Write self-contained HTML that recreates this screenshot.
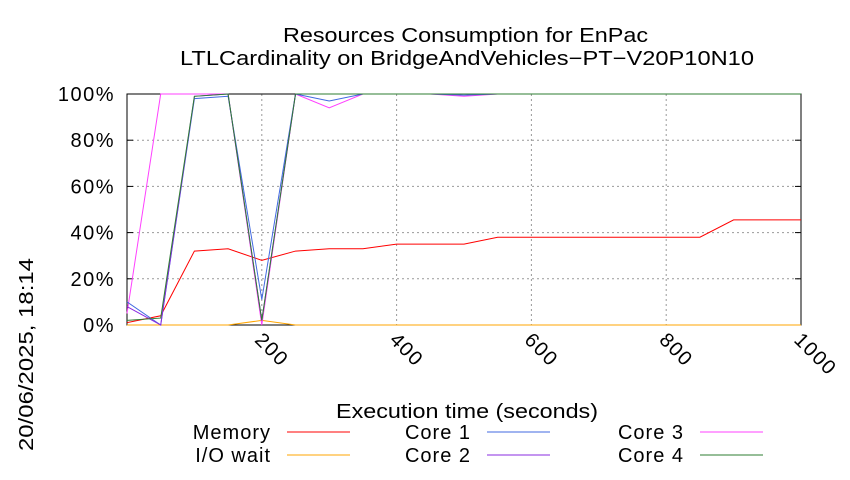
<!DOCTYPE html>
<html><head><meta charset="utf-8"><style>
body{margin:0;background:#fff;font-family:"Liberation Sans",sans-serif;}
svg text{font-family:"Liberation Sans",sans-serif;fill:#000;}
</style></head><body>
<svg id="chart" width="850" height="475" xmlns="http://www.w3.org/2000/svg">
<text x="283" y="42" font-size="20" textLength="365" lengthAdjust="spacingAndGlyphs">Resources Consumption for EnPac</text>
<text x="180" y="65" font-size="20" textLength="574" lengthAdjust="spacingAndGlyphs">LTLCardinality on BridgeAndVehicles−PT−V20P10N10</text>
<text transform="translate(33,451) rotate(-90)" font-size="20" textLength="193" lengthAdjust="spacingAndGlyphs">20/06/2025, 18:14</text>
<text x="336" y="418" font-size="20" textLength="262" lengthAdjust="spacingAndGlyphs">Execution time (seconds)</text>
<g id="grid"></g><g id="axes"></g><g id="series"></g><g id="legend"></g>
</svg>
<script>
const times=[0,50,100,150,200,250,300,350,400,450,500,550,600,650,700,750,800,850,900,950,1000];
const memory=[1,4,32,33,28,32,33,33,35,35,35,38,38,38,38,38,38,38,45.5,45.5,45.5];
const iowait=[0,0,0,0,2,0,0,0,0,0,0,0,0,0,0,0,0,0,0,0,0];
const core1=[10,0,98,99,11,100,97,100,100,100,99.5,100,100,100,100,100,100,100,100,100,100];
const core2=[8,0,99,100,2,100,100,100,100,100,100,100,100,100,100,100,100,100,100,100,100];
const core3=[5,100,100,100,0,100,94,100,100,100,99,100,100,100,100,100,100,100,100,100,100];
const core4=[2,3,99,100,2,100,100,100,100,100,100,100,100,100,100,100,100,100,100,100,100];
const xTicks=[200,400,600,800,1000];
const yTicks=[0,20,40,60,80,100];
const X0=127,X1=801,Y0=325,Y1=94;
const xs=v=>X0+(v/1000)*(X1-X0);
const ys=v=>Y0-(v/100)*(Y0-Y1);
const NS="http://www.w3.org/2000/svg";
function mk(tag,attrs,parent){const e=document.createElementNS(NS,tag);for(const k in attrs)e.setAttribute(k,attrs[k]);document.getElementById(parent).appendChild(e);return e;}
yTicks.forEach(t=>{
 const y=ys(t);
 if(t>0&&t<100){const g=mk('line',{x1:X0,x2:X1,y1:y,y2:y,stroke:'#999','stroke-dasharray':'2,3'},'grid');
 
 }
 const l=mk('text',{x:X0-12,y:y+7,'font-size':20,'text-anchor':'end','letter-spacing':1.5},'axes');l.textContent=t+'%';
 
 
 mk('line',{x1:X0,x2:X0+6,y1:y,y2:y,stroke:'#000'},'axes');
 mk('line',{x1:X1-6,x2:X1,y1:y,y2:y,stroke:'#000'},'axes');
});
xTicks.forEach(t=>{
 const x=xs(t);
 if(t<1000){const g=mk('line',{x1:x,x2:x,y1:Y1,y2:Y0,stroke:'#999','stroke-dasharray':'2,3'},'grid');
 
 }
 const l=mk('text',{transform:`translate(${x-8},${Y0+16}) rotate(45)`,'font-size':20,'letter-spacing':1.5},'axes');l.textContent=t;
 
 
});
const frame=mk('rect',{x:X0,y:Y1,width:X1-X0,height:Y0-Y1,fill:'none',stroke:'#000'},'axes');


const series=[['memory',memory,'#ff0000','Memory'],['iowait',iowait,'#ffa500','I/O wait'],['core1',core1,'#4169e1','Core 1'],['core2',core2,'#8a2be2','Core 2'],['core3',core3,'#ff40ff','Core 3'],['core4',core4,'#2e7d32','Core 4']];
const drawOrder=[0,1,4,2,3,5];
drawOrder.forEach(i=>{const [n,d,c]=series[i];
 const p=mk('polyline',{points:d.map((v,j)=>xs(times[j])+','+ys(v)).join(' '),fill:'none',stroke:c,'stroke-width':1},'series');
 
 
});
const pos=[[271,432],[271,455],[471,432],[471,455],[684,432],[684,455]];
[0,1,2,3,4,5].forEach(i=>{const [n,,c,lab]=series[i];const [x,y]=pos[i];
 const t=mk('text',{x:x,y:y+7,'font-size':20,'text-anchor':'end','letter-spacing':1},'legend');t.textContent=lab;
 
 
 const l=mk('line',{x1:x+16,x2:x+79,y1:y,y2:y,stroke:c},'legend');
 
 
});
</script>
</body></html>
